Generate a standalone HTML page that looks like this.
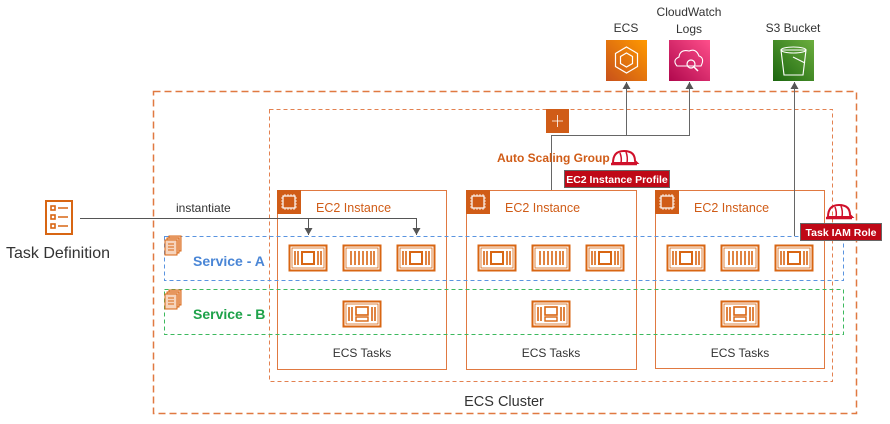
<!DOCTYPE html>
<html><head><meta charset="utf-8"><style>
html,body{margin:0;padding:0;background:#fff;}
svg{display:block;font-family:"Liberation Sans",sans-serif;}
</style></head><body>
<svg width="890" height="424" viewBox="0 0 890 424" xmlns="http://www.w3.org/2000/svg">
<defs>
  <linearGradient id="gEcs" x1="0" y1="1" x2="1" y2="0"><stop offset="0" stop-color="#c8511b"/><stop offset="1" stop-color="#ff9900"/></linearGradient>
  <linearGradient id="gCw" x1="0" y1="1" x2="1" y2="0"><stop offset="0" stop-color="#b0084d"/><stop offset="1" stop-color="#ff4f8b"/></linearGradient>
  <linearGradient id="gS3" x1="0" y1="1" x2="1" y2="0"><stop offset="0" stop-color="#1b660f"/><stop offset="1" stop-color="#6cae3e"/></linearGradient>
  <marker id="ar" markerWidth="8" markerHeight="8" refX="7" refY="4" orient="auto" markerUnits="userSpaceOnUse">
    <path d="M0,0 L7,4 L0,8 Z" fill="#555"/></marker>
  <g id="chipTask">
    <rect x="0.5" y="0.5" width="37" height="25" fill="#fff" stroke="#d86613" stroke-width="2"/>
    <rect x="3" y="3" width="32" height="20" fill="none" stroke="#d86613" stroke-width="0.8"/>
    <path d="M6,6v14M9,6v14M29,6v14M32,6v14" stroke="#d86613" stroke-width="1.6"/>
    <rect x="13" y="7" width="12" height="12" fill="none" stroke="#d86613" stroke-width="2"/>
  </g>
  <g id="barTask">
    <rect x="0.5" y="0.5" width="37" height="25" fill="#fff" stroke="#d86613" stroke-width="2"/>
    <rect x="3" y="3" width="32" height="20" fill="none" stroke="#d86613" stroke-width="0.8"/>
    <path d="M8,6v14M12,6v14M16,6v14M20,6v14M24,6v14M28,6v14M31,6v14" stroke="#d86613" stroke-width="1.6"/>
  </g>
  <g id="pcTask">
    <rect x="0.5" y="0.5" width="37" height="25" fill="#fff" stroke="#d86613" stroke-width="2"/>
    <rect x="3" y="3" width="32" height="20" fill="none" stroke="#d86613" stroke-width="0.8"/>
    <path d="M6,6v14M9,6v14M29,6v14M32,6v14" stroke="#d86613" stroke-width="1.6"/>
    <rect x="13" y="6" width="12" height="8" fill="none" stroke="#d86613" stroke-width="1.6"/>
    <rect x="13" y="16" width="12" height="4" fill="none" stroke="#d86613" stroke-width="1.4"/>
  </g>
  <g id="ec2ico">
    <rect x="0" y="0" width="24" height="24" fill="#d05c17"/>
    <rect x="6" y="6" width="12" height="12" fill="none" stroke="#fff" stroke-width="1.2"/>
    <path d="M8,4v2M11,4v2M14,4v2M17,4v2M8,18v2M11,18v2M14,18v2M17,18v2M4,8h2M4,11h2M4,14h2M4,17h2M18,8h2M18,11h2M18,14h2M18,17h2" stroke="#fff" stroke-width="0.8"/>
  </g>
  <g id="stack">
    <rect x="4" y="0" width="12" height="15" fill="#f3c7aa" stroke="#d86613" stroke-width="1"/>
    <rect x="2" y="2" width="12" height="15" fill="#f3c7aa" stroke="#d86613" stroke-width="1"/>
    <rect x="0" y="4" width="12" height="15" fill="#f6d4bd" stroke="#d86613" stroke-width="1"/>
    <path d="M3,8h6M3,11h6M3,14h6" stroke="#d86613" stroke-width="1"/>
  </g>
  <g id="helmet">
    <path d="M2,14 Q2,2 13,2 Q24,2 24,12 L26,14 Z" fill="none" stroke="#d0102a" stroke-width="2"/>
    <path d="M0,15 H26" stroke="#d0102a" stroke-width="2.5"/>
    <path d="M9,4 Q11,9 10,14 M15,3 Q17,8 16,14" fill="none" stroke="#d0102a" stroke-width="1.5"/>
  </g>
</defs>

<!-- ECS Cluster -->
<rect x="153.5" y="91.5" width="703" height="322" fill="none" stroke="#e07941" stroke-width="1.5" stroke-dasharray="7,4"/>
<!-- ASG -->
<rect x="269.5" y="109.5" width="563" height="272" fill="none" stroke="#e38150" stroke-width="1" stroke-dasharray="4,3"/>

<!-- EC2 boxes -->
<rect x="277.5" y="190.5" width="169" height="179" fill="#fff" stroke="#e07941" stroke-width="1"/>
<rect x="466.5" y="190.5" width="170" height="179" fill="#fff" stroke="#e07941" stroke-width="1"/>
<rect x="655.5" y="190.5" width="169" height="178" fill="#fff" stroke="#e07941" stroke-width="1"/>
<use href="#ec2ico" x="277" y="190"/>
<use href="#ec2ico" x="466" y="190"/>
<use href="#ec2ico" x="655" y="190"/>
<g fill="#d05c17" font-size="12.5">
<text x="316" y="212">EC2 Instance</text>
<text x="505" y="212">EC2 Instance</text>
<text x="694" y="212">EC2 Instance</text>
</g>
<g fill="#333" font-size="12" text-anchor="middle">
<text x="362" y="357">ECS Tasks</text>
<text x="551" y="357">ECS Tasks</text>
<text x="740" y="357">ECS Tasks</text>
</g>

<!-- Services -->
<rect x="164.5" y="236.5" width="679" height="44" fill="none" stroke="#5a94e0" stroke-width="1" stroke-dasharray="4,3"/>
<rect x="164.5" y="289.5" width="679" height="45" fill="none" stroke="#3cb95e" stroke-width="1" stroke-dasharray="4,3"/>
<use href="#stack" x="165" y="236"/>
<use href="#stack" x="165" y="290"/>
<text x="193" y="266" font-size="14" font-weight="bold" fill="#4a86d6">Service - A</text>
<text x="193" y="319" font-size="14" font-weight="bold" fill="#1ea24a">Service - B</text>

<!-- tasks -->
<use href="#chipTask" x="289" y="245"/><use href="#barTask" x="343" y="245"/><use href="#chipTask" x="397" y="245"/>
<use href="#chipTask" x="478" y="245"/><use href="#barTask" x="532" y="245"/><use href="#chipTask" x="586" y="245"/>
<use href="#chipTask" x="667" y="245"/><use href="#barTask" x="721" y="245"/><use href="#chipTask" x="775" y="245"/>
<use href="#pcTask" x="343" y="301"/><use href="#pcTask" x="532" y="301"/><use href="#pcTask" x="721" y="301"/>

<!-- Task definition -->
<rect x="46" y="201" width="26" height="33" fill="none" stroke="#d86613" stroke-width="2"/>
<g fill="none" stroke="#d86613" stroke-width="1.6">
<rect x="51" y="206" width="4" height="4"/><rect x="51" y="215" width="4" height="4"/><rect x="51" y="224" width="4" height="4"/>
<path d="M58,208h10M58,217h10M58,226h10"/>
</g>
<text x="58" y="258" font-size="16" fill="#333" text-anchor="middle">Task Definition</text>
<text x="176" y="212" font-size="12" fill="#333">instantiate</text>
<path d="M80,218.5 H416.5 V235" fill="none" stroke="#555" stroke-width="1" marker-end="url(#ar)"/>
<path d="M308.5,218.5 V235" fill="none" stroke="#555" stroke-width="1" marker-end="url(#ar)"/>

<!-- ASG icon and connectors -->
<rect x="546" y="109" width="23" height="24" fill="#d05c17"/>
<path d="M552,121h11M557.5,115v12" stroke="#fff" stroke-width="0.8"/>
<path d="M551.5,190 V135.5 H689.5 V82" fill="none" stroke="#666" stroke-width="1" marker-end="url(#ar)"/>
<path d="M626.5,135.5 V82" fill="none" stroke="#666" stroke-width="1" marker-end="url(#ar)"/>
<path d="M794.5,236 V82" fill="none" stroke="#666" stroke-width="1" marker-end="url(#ar)"/>

<text x="497" y="162" font-size="12" font-weight="bold" fill="#d05c17">Auto Scaling Group</text>
<use href="#helmet" x="611" y="149"/>
<rect x="564.5" y="170.5" width="105" height="17" fill="#bf0816" stroke="#666" stroke-width="1"/>
<text x="617" y="183" font-size="10.5" font-weight="bold" fill="#fff" text-anchor="middle">EC2 Instance Profile</text>
<use href="#helmet" x="826" y="203"/>
<rect x="800.5" y="223.5" width="81" height="17" fill="#bf0816" stroke="#666" stroke-width="1"/>
<text x="841" y="236" font-size="10.5" font-weight="bold" fill="#fff" text-anchor="middle">Task IAM Role</text>

<!-- Top services -->
<rect x="606" y="40" width="41" height="41" fill="url(#gEcs)"/>
<path d="M626.5,47 l11,6.5 v13 l-11,6.5 l-11,-6.5 v-13 Z M626.5,53 l6,3.5 v7 l-6,3.5 l-6,-3.5 v-7 Z" fill="none" stroke="#fff" stroke-width="1.2"/>
<rect x="669" y="40" width="41" height="41" fill="url(#gCw)"/>
<path d="M677,66 Q672,60 679,57 Q680,49 689,51 Q696,48 699,56 Q705,58 701,66 Z" fill="none" stroke="#fff" stroke-width="1.1"/>
<circle cx="691" cy="64" r="4" fill="none" stroke="#fff" stroke-width="1.2"/><path d="M694,67 l4,4" stroke="#fff" stroke-width="1.5"/>
<rect x="773" y="40" width="41" height="41" fill="url(#gS3)"/>
<path d="M781,50 h25 l-3,25 h-19 Z" fill="none" stroke="#fff" stroke-width="1.1"/>
<ellipse cx="793.5" cy="50" rx="12.5" ry="3" fill="none" stroke="#fff" stroke-width="1.1"/>
<path d="M793,57 l12,6" stroke="#fff" stroke-width="1.1"/>
<g font-size="12" fill="#333" text-anchor="middle">
<text x="626" y="32">ECS</text>
<text x="689" y="16">CloudWatch</text>
<text x="689" y="33">Logs</text>
<text x="793" y="32">S3 Bucket</text>
</g>
<text x="504" y="406" font-size="14.5" fill="#333" text-anchor="middle">ECS Cluster</text>
</svg>
</body></html>
